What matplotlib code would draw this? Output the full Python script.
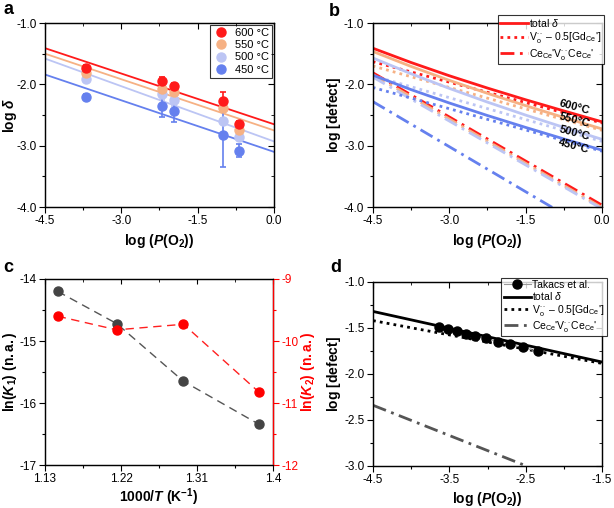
import numpy as np
import matplotlib
matplotlib.use('Agg')
import matplotlib.pyplot as plt
from matplotlib.ticker import AutoMinorLocator

plt.rcParams['font.family'] = ['Liberation Sans', 'DejaVu Sans']
plt.rcParams['mathtext.fontset'] = 'custom'
plt.rcParams['mathtext.rm'] = 'Liberation Sans'
plt.rcParams['mathtext.it'] = 'Liberation Sans:italic'
plt.rcParams['mathtext.bf'] = 'Liberation Sans:bold'
plt.rcParams['mathtext.bfit'] = 'Liberation Sans:bold:italic'
plt.rcParams['axes.unicode_minus'] = False

# ---- data ----
temps = ['600 °C', '550 °C', '500 °C', '450 °C']
colors = ['#ff1a1a', '#f6b184', '#bcc5f4', '#6580ee']

# a: measured log(delta) vs log(pO2)
logp_meas = [-3.69, -2.19, -1.97, -1.00, -0.69]
logd_meas = {
    '600 °C': [-1.73, -1.94, -2.03, -2.27, -2.64],
    '550 °C': [-1.82, -2.07, -2.13, -2.39, -2.74],
    '500 °C': [-1.92, -2.16, -2.26, -2.60, -2.86],
    '450 °C': [-2.20, -2.36, -2.43, -2.83, -3.08],
}
logd_err = {
    '600 °C': [0.05, 0.06, 0.06, 0.15, 0.05],
    '550 °C': [0.03, 0.05, 0.05, 0.05, 0.03],
    '500 °C': [0.03, 0.10, 0.10, 0.05, 0.05],
    '450 °C': [0.04, 0.17, 0.19, 0.52, 0.10],
}
fit_x = [-4.5, 0.0]
fit_y = {
    '600 °C': [-1.41, -2.65],
    '550 °C': [-1.50, -2.75],
    '500 °C': [-1.58, -2.93],
    '450 °C': [-1.84, -3.10],
}

# b: model defect concentrations
model_x = [-4.5, -3.75, -3.0, -2.25, -1.5, -0.75, 0.0]
total_y = {
    '600 °C': [-1.410, -1.643, -1.859, -2.060, -2.251, -2.433, -2.611],
    '550 °C': [-1.463, -1.707, -1.934, -2.146, -2.347, -2.540, -2.727],
    '500 °C': [-1.569, -1.826, -2.065, -2.289, -2.501, -2.702, -2.897],
    '450 °C': [-1.849, -2.085, -2.303, -2.508, -2.702, -2.890, -3.073],
}
vo_x = [-4.5, 0.0]
vo_y = {
    '600 °C': [-1.63, -2.63],
    '550 °C': [-1.70, -2.75],
    '500 °C': [-1.86, -2.93],
    '450 °C': [-2.05, -3.09],
}
cl_y = {
    '600 °C': [-1.81, -3.97],
    '550 °C': [-1.84, -4.01],
    '500 °C': [-1.88, -4.03],
    '450 °C': [-2.28, -4.485],
}
t_labels = ['600°C', '550°C', '500°C', '450°C']
t_label_y = [-2.37, -2.58, -2.79, -3.00]

# c: equilibrium constants
inv_t = [1.145, 1.215, 1.294, 1.383]
ln_k1 = [-14.20, -14.72, -15.65, -16.34]
ln_k2 = [-9.60, -9.82, -9.73, -10.82]

# d: comparison with Takacs et al.
tak_x = [-3.63, -3.52, -3.40, -3.28, -3.16, -3.02, -2.86, -2.71, -2.54, -2.34]
tak_y = [-1.487, -1.513, -1.538, -1.560, -1.585, -1.614, -1.650, -1.679, -1.711, -1.755]
d_x = [-4.5, -1.5]
d_total = [-1.32, -1.87]
d_vo = [-1.42, -1.885]
d_cl_x = [-4.5, -2.49]
d_cl = [-2.34, -3.0]

plab = r'$\mathbf{log\ (}\mathbfit{P}\mathbf{(O_2))}$'
FS_TICK = 8.5
FS_LAB = 10


def style(ax):
    ax.xaxis.set_minor_locator(AutoMinorLocator(2))
    ax.yaxis.set_minor_locator(AutoMinorLocator(2))
    ax.tick_params(which='both', direction='out', labelsize=FS_TICK, width=0.8, pad=2)
    ax.tick_params(which='major', length=4)
    ax.tick_params(which='minor', length=2.5)
    for s in ax.spines.values():
        s.set_linewidth(0.9)


def mirror(ax):
    tw = ax.twinx()
    tw.set_ylim(ax.get_ylim())
    tw.set_yticks(ax.get_yticks())
    tw.yaxis.set_minor_locator(AutoMinorLocator(2))
    tw.tick_params(which='both', direction='in', labelright=False)
    tw.tick_params(which='major', length=4)
    tw.tick_params(which='minor', length=2.5)
    ty = ax.twiny()
    ty.set_xlim(ax.get_xlim())
    ty.set_xticks(ax.get_xticks())
    ty.xaxis.set_minor_locator(AutoMinorLocator(2))
    ty.tick_params(which='both', direction='in', labeltop=False)
    ty.tick_params(which='major', length=4)
    ty.tick_params(which='minor', length=2.5)


fig = plt.figure(figsize=(6.14, 5.08), dpi=100)

# ---- a ----
ax = fig.add_axes([0.0733, 0.5925, 0.3727, 0.3622])
for t, c in zip(temps, colors):
    ax.plot(fit_x, fit_y[t], color=c, lw=1.3, zorder=2)
for t, c in zip(['500 °C', '550 °C', '450 °C', '600 °C'], [colors[2], colors[1], colors[3], colors[0]]):
    ax.errorbar(logp_meas, logd_meas[t], yerr=logd_err[t], fmt='o', color=c, ms=6.5,
                elinewidth=1.2, capsize=2, capthick=1.2, zorder=3)
hs = [plt.Line2D([], [], ls='none', marker='o', ms=6.5, color=c) for c in colors]
leg = ax.legend(hs, temps, loc='upper right', fontsize=8, frameon=True, fancybox=False,
                edgecolor='black', handletextpad=0.6, borderpad=0.3, labelspacing=0.2,
                handlelength=1.3, borderaxespad=0.15)
leg.get_frame().set_linewidth(0.8)
ax.set_xlim(-4.5, 0)
ax.set_ylim(-4, -1)
ax.set_xticks([-4.5, -3.0, -1.5, 0.0])
ax.set_yticks([-4, -3, -2, -1])
ax.set_xticklabels(['-4.5', '-3.0', '-1.5', '0.0'])
ax.set_yticklabels(['-4.0', '-3.0', '-2.0', '-1.0'])
style(ax)
ax.set_xlabel(plab, fontsize=FS_LAB, labelpad=3)
ax.set_ylabel(r'$\mathbf{log}\ \mathbfit{\delta}$', fontsize=FS_LAB)
ax.yaxis.set_label_coords(-0.115, 0.5)
mirror(ax)

# ---- b ----
ax = fig.add_axes([0.607, 0.5925, 0.3735, 0.3622])
for t, c in zip(temps, colors):
    ax.plot(model_x, total_y[t], color=c, lw=2.0)
    ax.plot(vo_x, vo_y[t], color=c, lw=2.0, ls=(0, (1, 1.5)))
    ax.plot(vo_x, cl_y[t], color=c, lw=2.0, ls=(0, (5, 2, 1, 2)))
ax.set_xlim(-4.5, 0)
ax.set_ylim(-4, -1)
ax.set_xticks([-4.5, -3.0, -1.5, 0.0])
ax.set_yticks([-4, -3, -2, -1])
ax.set_xticklabels(['-4.5', '-3.0', '-1.5', '0.0'])
ax.set_yticklabels(['-4.0', '-3.0', '-2.0', '-1.0'])
style(ax)
ax.set_xlabel(plab, fontsize=FS_LAB, labelpad=3)
ax.set_ylabel(r'$\mathbf{log\ [defect]}$', fontsize=FS_LAB)
ax.yaxis.set_label_coords(-0.13, 0.5)
for t, yy in zip(t_labels, t_label_y):
    ax.text(-0.55, yy, t, fontsize=8, fontweight='bold', rotation=-15,
            ha='center', va='center')
hb = [plt.Line2D([], [], color=colors[0], lw=2.0),
      plt.Line2D([], [], color=colors[0], lw=2.0, ls=(0, (1, 1.5))),
      plt.Line2D([], [], color=colors[0], lw=2.0, ls=(0, (5, 2, 1, 2)))]
lb = [r'total $\delta$', r"V$_\mathrm{o}^{\bullet\bullet}$ – 0.5[Gd$_\mathrm{Ce}$']",
      r"Ce$_\mathrm{Ce}$'V$_\mathrm{o}^{\bullet\bullet}$Ce$_\mathrm{Ce}$'"]
leg = fig.legend(hb, lb, loc='upper right', bbox_to_anchor=(0.983, 0.971), fontsize=7.5,
                 frameon=True, fancybox=False, edgecolor='black', handlelength=2.6,
                 handletextpad=0.15, borderpad=0.2, labelspacing=0.15, borderaxespad=0)
leg.get_frame().set_linewidth(0.8)
mirror(ax)

# ---- c ----
ax = fig.add_axes([0.0733, 0.0846, 0.3713, 0.3662])
ax.plot(inv_t, ln_k1, ls=(0, (6, 4)), color='#555555', lw=1.0, marker='o', ms=6.5,
        mfc='#444444', mec='#444444')
ax.set_xlim(1.13, 1.4)
ax.set_ylim(-17, -14)
ax.set_xticks([1.13, 1.22, 1.31, 1.4])
ax.set_xticklabels(['1.13', '1.22', '1.31', '1.4'])
ax.set_yticks([-17, -16, -15, -14])
style(ax)
ax.set_xlabel(r'$\mathbf{1000/}\mathbfit{T}\mathbf{\ (K^{-1})}$', fontsize=FS_LAB, labelpad=1)
ax.set_ylabel(r'$\mathbf{ln(}\mathbfit{K}_\mathbf{1}\mathbf{)\ (n.a.)}$', fontsize=FS_LAB)
ax.yaxis.set_label_coords(-0.115, 0.5)
ty = ax.twiny()
ty.set_xlim(ax.get_xlim())
ty.set_xticks(ax.get_xticks())
ty.xaxis.set_minor_locator(AutoMinorLocator(2))
ty.tick_params(which='both', direction='in', labeltop=False)
ty.tick_params(which='minor', length=2.5)
ax2 = ax.twinx()
ax2.plot(inv_t, ln_k2, ls=(0, (6, 4)), color='#ff2020', lw=1.0, marker='o', ms=6.5,
         mfc='#ff0000', mec='#ff0000')
ax2.set_ylim(-12, -9)
ax2.set_yticks([-12, -11, -10, -9])
ax2.yaxis.set_minor_locator(AutoMinorLocator(2))
ax2.tick_params(which='both', direction='out', labelsize=FS_TICK, colors='#ff0000',
                width=0.8, pad=2)
ax2.tick_params(which='major', length=4)
ax2.tick_params(which='minor', length=2.5)
ax2.spines['right'].set_color('#ff0000')
ax2.spines['right'].set_linewidth(0.9)
ax2.set_ylabel(r'$\mathbf{ln(}\mathbfit{K}_\mathbf{2}\mathbf{)\ (n.a.)}$', fontsize=FS_LAB,
               color='#ff0000')
ax2.yaxis.set_label_coords(1.112, 0.5)

# ---- d ----
ax = fig.add_axes([0.6075, 0.0827, 0.3730, 0.3622])
ax.plot(d_x, d_total, color='black', lw=2.0)
ax.plot(d_x, d_vo, color='black', lw=2.0, ls=(0, (1, 1.5)))
ax.plot(d_cl_x, d_cl, color='#555555', lw=2.0, ls=(0, (5, 2, 1, 2)))
ax.plot(tak_x, tak_y, color='#999999', lw=0.8, marker='o', ms=6.5, mfc='black', mec='black')
ax.set_xlim(-4.5, -1.5)
ax.set_ylim(-3, -1)
ax.set_xticks([-4.5, -3.5, -2.5, -1.5])
ax.set_yticks([-3, -2.5, -2, -1.5, -1])
ax.set_yticklabels(['-3.0', '-2.5', '-2.0', '-1.5', '-1.0'])
style(ax)
ax.set_xlabel(plab, fontsize=FS_LAB, labelpad=3)
ax.set_ylabel(r'$\mathbf{log\ [defect]}$', fontsize=FS_LAB)
ax.yaxis.set_label_coords(-0.13, 0.5)
hd = [plt.Line2D([], [], color='#999999', lw=0.8, marker='o', ms=6.5, mfc='black', mec='black'),
      plt.Line2D([], [], color='black', lw=2.0),
      plt.Line2D([], [], color='black', lw=2.0, ls=(0, (1, 1.5))),
      plt.Line2D([], [], color='#555555', lw=2.0, ls=(0, (5, 2, 1, 2)))]
ld = ['Takacs et al.', r'total $\delta$',
      r"V$_\mathrm{o}^{\bullet\bullet}$ – 0.5[Gd$_\mathrm{Ce}$']",
      r"Ce$_\mathrm{Ce}$'V$_\mathrm{o}^{\bullet\bullet}$Ce$_\mathrm{Ce}$'"]
leg = fig.legend(hd, ld, loc='upper right', bbox_to_anchor=(0.988, 0.453), fontsize=7.5,
                 frameon=True, fancybox=False, edgecolor='black', handlelength=2.6,
                 handletextpad=0.15, borderpad=0.2, labelspacing=0.05, borderaxespad=0)
leg.get_frame().set_linewidth(0.8)
mirror(ax)

for lab, x, y in [('a', 0.006, 0.998), ('b', 0.535, 0.995), ('c', 0.006, 0.49), ('d', 0.538, 0.49)]:
    fig.text(x, y, lab, fontsize=13, fontweight='bold', va='top')

fig.savefig('out.png', dpi=100)
